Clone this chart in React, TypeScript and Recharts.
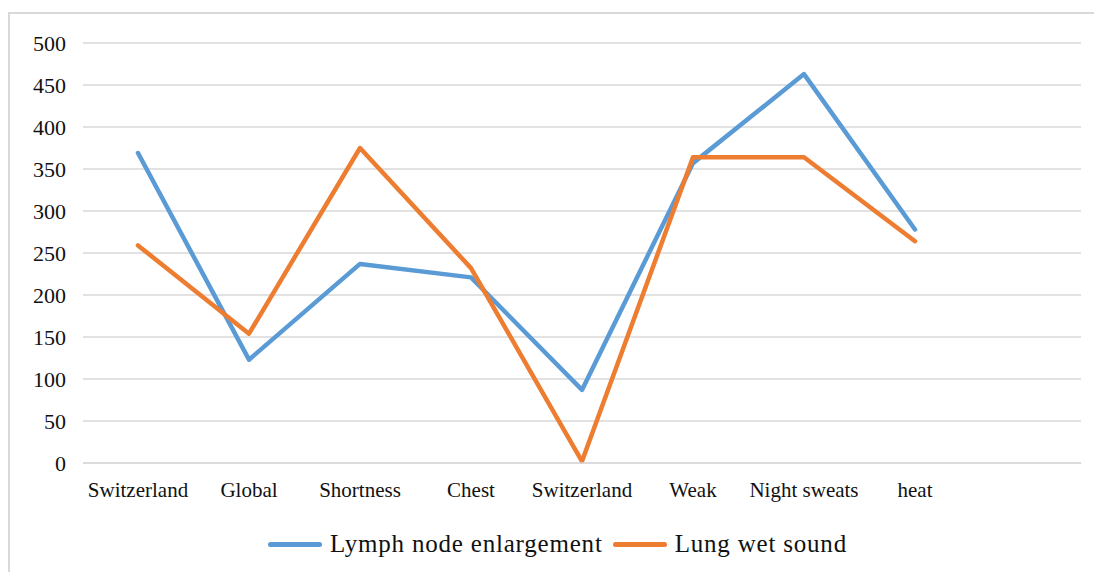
import { LineChart, Line, XAxis, YAxis, CartesianGrid } from "recharts";

const categories = ["Switzerland", "Global", "Shortness", "Chest", "Switzerland", "Weak", "Night sweats", "heat", ""];
const lymphNode = [369, 123, 237, 221, 87, 357, 463, 278, null];
const lungWet = [259, 154, 375, 232, 2, 364, 364, 264, null];
const yTicks = [0, 50, 100, 150, 200, 250, 300, 350, 400, 450, 500];

const SERIES = [
  { key: "lymph", name: "Lymph node enlargement", color: "#5B9BD5" },
  { key: "lung", name: "Lung wet sound", color: "#ED7D31" },
];

const FONT = "'Liberation Serif', 'Times New Roman', serif";

// y tick drawn by hand so the serif face and size stick
function YTick(props: any) {
  const { x, y, payload } = props;
  return (
    <text x={x} y={y} dy="0.35em" textAnchor="end" fontFamily={FONT} fontSize={22} fill="#111">
      {payload.value}
    </text>
  );
}

export default function App() {
  const data = categories.map((name, i) => ({
    name,
    lymph: lymphNode[i],
    lung: lungWet[i],
  }));

  return (
    <div style={{ position: "fixed", inset: 0, background: "#fff", overflow: "hidden", fontFamily: FONT }}>
      {/* chart frame, runs off the right and bottom edges */}
      <div
        style={{
          position: "absolute",
          left: 8,
          top: 12,
          width: 1200,
          height: 700,
          border: "2px solid #d9d9d9",
          boxSizing: "border-box",
        }}
      />
      <div style={{ position: "absolute", left: 0, top: 0 }}>
        <LineChart
          width={1094}
          height={572}
          data={data}
          margin={{ top: 43, right: 13, left: 0, bottom: 69 }}
          style={{ fontFamily: FONT }}
        >
          <CartesianGrid vertical={false} stroke="#d9d9d9" strokeWidth={1.5} />
          <XAxis
            dataKey="name"
            height={40}
            padding={{ left: 55, right: 55 }}
            interval={0}
            tickLine={false}
            tickSize={0}
            tickMargin={19}
            axisLine={{ stroke: "#d9d9d9", strokeWidth: 1.5 }}
            tick={{ fontSize: 21, fill: "#111", fontFamily: FONT }}
          />
          <YAxis
            width={83}
            domain={[0, 500]}
            ticks={yTicks}
            interval={0}
            tickLine={false}
            axisLine={false}
            tickSize={0}
            tickMargin={17}
            tick={YTick}
          />
          {SERIES.map((s) => (
            <Line
              key={s.key}
              type="linear"
              dataKey={s.key}
              name={s.name}
              stroke={s.color}
              strokeWidth={4.5}
              strokeLinecap="round"
              strokeLinejoin="round"
              dot={false}
              activeDot={false}
              isAnimationActive={false}
            />
          ))}
        </LineChart>
      </div>
      {/* legend */}
      <div
        style={{
          position: "absolute",
          left: 268,
          top: 530,
          display: "flex",
          alignItems: "center",
          fontFamily: FONT,
          fontSize: 25,
          letterSpacing: 0.8,
          color: "#111",
          whiteSpace: "nowrap",
        }}
      >
        {SERIES.map((s) => (
          <div key={s.key} style={{ display: "flex", alignItems: "center", marginRight: 10 }}>
            <div style={{ width: 54, height: 5, borderRadius: 3, background: s.color, marginRight: 8 }} />
            <span>{s.name}</span>
          </div>
        ))}
      </div>
    </div>
  );
}
